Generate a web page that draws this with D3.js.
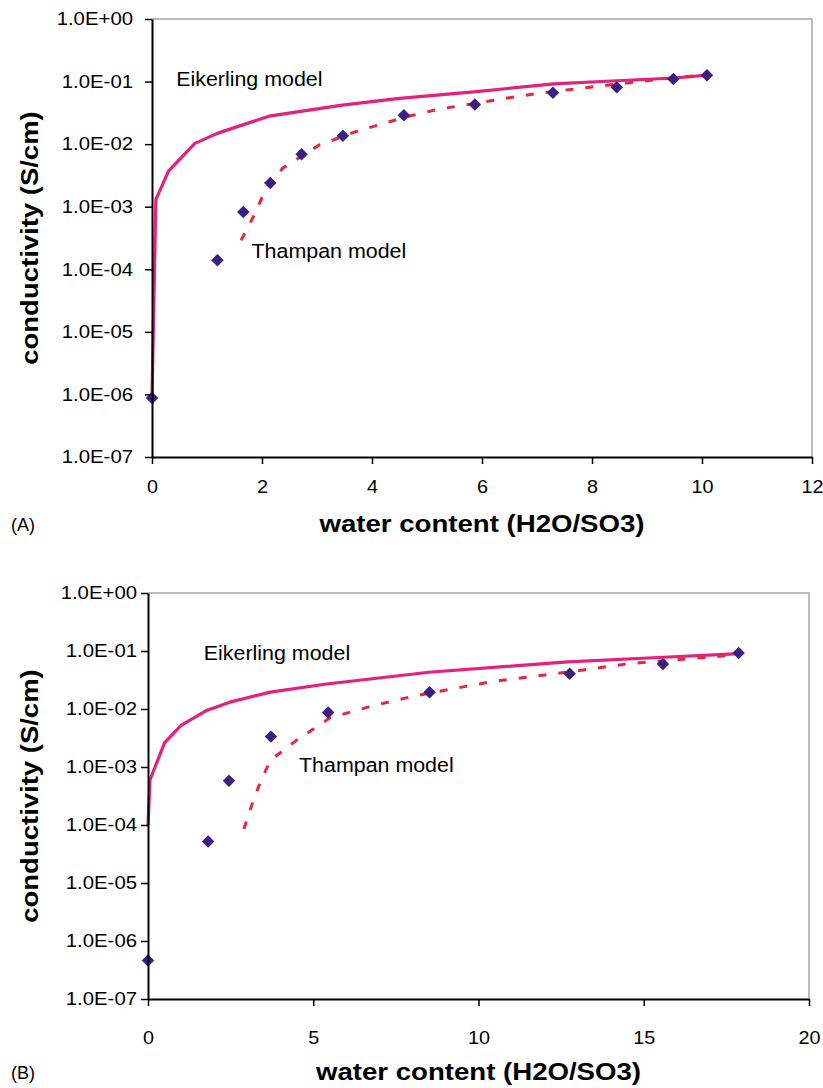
<!DOCTYPE html>
<html>
<head>
<meta charset="utf-8">
<script src="https://cdn.jsdelivr.net/npm/d3@7"></script>
<style>
  body { margin: 0; background: #fff; }
  svg { display: block; font-family: "Liberation Sans", Arial, sans-serif; }
</style>
</head>
<body>
<svg id="chart"></svg>
<script>
// conductivity vs water content, two membranes
const yTickValues = [1e0, 1e-1, 1e-2, 1e-3, 1e-4, 1e-5, 1e-6, 1e-7];
const yTickLabels = ['1.0E+00', '1.0E-01', '1.0E-02', '1.0E-03', '1.0E-04', '1.0E-05', '1.0E-06', '1.0E-07'];

// panel A
const aTicksX = [0, 2, 4, 6, 8, 10, 12];
const aExpWater = [0, 1.19, 1.66, 2.15, 2.72, 3.47, 4.58, 5.87, 7.29, 8.45, 9.48, 10.09];
const aExpCond = [8.8e-7, 1.4e-4, 8.2e-4, 2.4e-3, 6.9e-3, 1.36e-2, 2.9e-2, 4.3e-2, 6.6e-2, 8.1e-2, 0.11, 0.126];
const aEikWater = [0, 0.07, 0.3, 0.78, 1.2, 2.13, 3.46, 4.5, 5.9, 7.3, 8.45, 9.5, 10.1];
const aEikCond = [9e-7, 1.3e-3, 3.7e-3, 1.03e-2, 1.5e-2, 2.8e-2, 4.2e-2, 5.4e-2, 6.9e-2, 9.2e-2, 0.103, 0.114, 0.127];
const aThaWater = [1.62, 1.86, 2.0, 2.37, 3.04, 3.7, 4.6, 5.2, 6.7, 7.1, 8.2, 8.94, 9.97];
const aThaCond = [2.9e-4, 7.4e-4, 1.4e-3, 4.1e-3, 9.7e-3, 1.58e-2, 2.7e-2, 3.6e-2, 5.9e-2, 6.6e-2, 8.6e-2, 0.102, 0.127];

// panel B
const bTicksX = [0, 5, 10, 15, 20];
const bExpWater = [0, 1.82, 2.45, 3.72, 5.45, 8.52, 12.76, 15.58, 17.87];
const bExpCond = [4.6e-7, 5.2e-5, 5.8e-4, 3.34e-3, 8.7e-3, 1.95e-2, 4.04e-2, 5.94e-2, 9.2e-2];
const bEikWater = [0, 0.06, 0.5, 1.0, 1.75, 2.45, 3.7, 5.4, 8.5, 12.7, 15.6, 17.9];
const bEikCond = [1e-4, 6e-4, 2.6e-3, 5.2e-3, 9.3e-3, 1.3e-2, 1.95e-2, 2.7e-2, 4.3e-2, 6.5e-2, 7.8e-2, 9e-2];
const bThaWater = [2.9, 3.15, 3.4, 3.7, 4.5, 5.5, 6.7, 8.0, 10.3, 12.8, 14.6, 15.8, 17.8];
const bThaCond = [8.5e-5, 2.3e-4, 5.5e-4, 1.3e-3, 2.9e-3, 7e-3, 1.1e-2, 1.65e-2, 2.9e-2, 4.4e-2, 6.1e-2, 6.9e-2, 8.6e-2];

const zip = (xs, ys) => xs.map((x, i) => ({x: x, y: ys[i]}));

const svg = d3.select('#chart').attr('width', 823).attr('height', 1088);

// widen text a little, the original chart used a broad face
function stretch(sel, k) {
  sel.each(function() {
    const w = this.getComputedTextLength();
    d3.select(this).attr('textLength', w * k).attr('lengthAdjust', 'spacingAndGlyphs');
  });
}

function drawPanel(p) {
  const x = d3.scaleLinear().domain([0, p.xMax]).range([p.left, p.right]);
  const y = d3.scaleLog().domain([1e-7, 1]).range([p.bottom, p.top]);
  const g = svg.append('g');

  // grey frame on top and right
  g.append('path')
    .attr('d', `M${p.left},${p.top}H${p.right}V${p.bottom}`)
    .attr('fill', 'none').attr('stroke', '#a6a6a6').attr('stroke-width', 1.5);

  const line = d3.line().x(d => x(d.x)).y(d => y(d.y));

  g.append('path')
    .datum(zip(p.eikW, p.eikC))
    .attr('d', line)
    .attr('fill', 'none').attr('stroke', '#e5217f').attr('stroke-width', 3.2)
    .attr('stroke-linejoin', 'round');

  g.append('path')
    .datum(zip(p.thaW, p.thaC))
    .attr('d', line)
    .attr('fill', 'none').attr('stroke', '#e8283a').attr('stroke-width', 3)
    .attr('stroke-dasharray', '8,12');

  const diamond = d3.symbol(d3.symbolSquare, 78);
  g.selectAll('.pt')
    .data(zip(p.expW, p.expC))
    .enter()
    .append('path')
    .attr('class', 'pt')
    .attr('d', diamond)
    .attr('transform', d => 'translate(' + x(d.x) + ',' + y(d.y) + ') rotate(45)')
    .attr('fill', '#3b1f83');

  const xAxis = g.append('g')
    .attr('transform', 'translate(0,' + p.bottom + ')')
    .call(d3.axisBottom(x).tickValues(p.ticksX).tickSize(7).tickPadding(p.xPad).tickSizeOuter(0));
  const yAxis = g.append('g')
    .attr('transform', 'translate(' + p.left + ',0)')
    .call(d3.axisLeft(y).tickValues(yTickValues).tickFormat((d, i) => yTickLabels[i]).tickSize(7).tickPadding(p.yPad).tickSizeOuter(0));

  [xAxis, yAxis].forEach(ax => {
    ax.select('.domain').attr('stroke', '#000').attr('stroke-width', 2);
    ax.selectAll('.tick line').attr('stroke', '#000').attr('stroke-width', 1.5);
    ax.selectAll('.tick text').attr('font-size', 18).attr('fill', '#000')
      .attr('font-family', '"Liberation Sans", Arial, sans-serif');
  });
  stretch(yAxis.selectAll('.tick text'), 1.13);
  stretch(xAxis.selectAll('.tick text'), 1.1);

  // model annotations
  const eik = g.append('text').attr('x', x(p.eikLabel[0])).attr('y', y(p.eikLabel[1]))
    .attr('font-size', 20).text('Eikerling model');
  const tha = g.append('text').attr('x', x(p.thaLabel[0])).attr('y', y(p.thaLabel[1]))
    .attr('font-size', 20).text('Thampan model');
  stretch(eik, 1.07);
  stretch(tha, 1.07);

  // axis titles
  const xt = g.append('text')
    .attr('x', (p.left + p.right) / 2).attr('y', p.xTitleY)
    .attr('text-anchor', 'middle').attr('font-size', 24).attr('font-weight', 'bold')
    .text('water content (H2O/SO3)');
  const yt = g.append('text')
    .attr('transform', 'translate(' + p.yTitleX + ',' + (p.top + p.bottom) / 2 + ') rotate(-90)')
    .attr('text-anchor', 'middle').attr('font-size', 24).attr('font-weight', 'bold')
    .text('conductivity (S/cm)');
  stretch(xt, 1.15);
  stretch(yt, 1.145);

  g.append('text').attr('x', 11).attr('y', p.xTitleY - 1)
    .attr('font-size', 18).text(p.name);
}

drawPanel({
  name: '(A)', left: 152, right: 812, top: 19, bottom: 457, xMax: 12,
  ticksX: aTicksX, xPad: 16, yPad: 12,
  expW: aExpWater, expC: aExpCond,
  eikW: aEikWater, eikC: aEikCond,
  thaW: aThaWater, thaC: aThaCond,
  eikLabel: [0.44, 0.085], thaLabel: [1.81, 1.5e-4],
  xTitleY: 532, yTitleX: 38
});

drawPanel({
  name: '(B)', left: 148, right: 809, top: 593, bottom: 999, xMax: 20,
  ticksX: bTicksX, xPad: 25, yPad: 4,
  expW: bExpWater, expC: bExpCond,
  eikW: bEikWater, eikC: bEikCond,
  thaW: bThaWater, thaC: bThaCond,
  eikLabel: [1.69, 0.0705], thaLabel: [4.57, 8.3e-4],
  xTitleY: 1080, yTitleX: 38
});
</script>
</body>
</html>
